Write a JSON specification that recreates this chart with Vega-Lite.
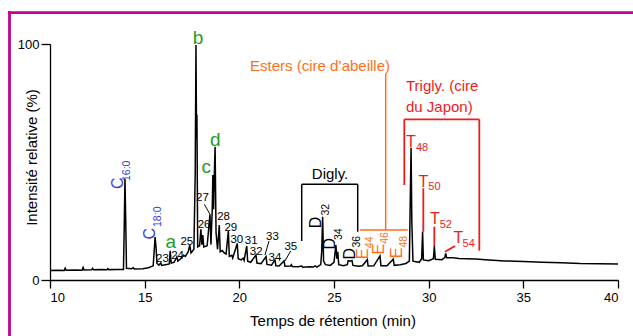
{
 "$schema": "https://vega.github.io/schema/vega-lite/v6.json",
 "width": 568,
 "height": 236,
 "autosize": {"type": "none"},
 "padding": {"left": 50, "top": 44, "right": 15, "bottom": 56},
 "config": {
  "font": "Liberation Sans",
  "view": {"stroke": null},
  "axis": {"grid": false, "domainColor": "#000000", "tickColor": "#000000", "labelColor": "#000000", "titleColor": "#000000", "domainWidth": 1.3, "tickWidth": 1.3, "labelFont": "Liberation Sans", "titleFont": "Liberation Sans", "titleFontWeight": "normal", "labelFontSize": 13, "titleFontSize": 15}
 },
 "datasets": {
  "trace": [
   {"t":10.0,"v":4.0},{"t":10.4,"v":4.1},{"t":10.75,"v":4.0},{"t":10.8,"v":5.0},{"t":10.85,"v":4.1},{"t":11.3,"v":4.2},{"t":11.7,"v":4.1},{"t":11.75,"v":5.3},{"t":11.8,"v":4.2},{"t":12.2,"v":4.3},{"t":12.25,"v":4.9},{"t":12.3,"v":4.3},{"t":12.7,"v":4.4},{"t":13.0,"v":4.3},{"t":13.05,"v":4.8},{"t":13.1,"v":4.4},{"t":13.5,"v":4.5},{"t":13.88,"v":4.5},{"t":13.92,"v":22},{"t":13.96,"v":43},{"t":14.0,"v":25},{"t":14.04,"v":5},{"t":14.3,"v":4.8},{"t":14.4,"v":5.2},{"t":14.45,"v":4.7},{"t":14.9,"v":4.8},{"t":15.2,"v":5.2},{"t":15.45,"v":6.0},{"t":15.5,"v":12},{"t":15.55,"v":18.2},{"t":15.6,"v":14},{"t":15.65,"v":7},{"t":15.75,"v":6.3},{"t":15.85,"v":7.2},{"t":15.9,"v":6.2},{"t":16.1,"v":6.5},{"t":16.3,"v":6.8},{"t":16.35,"v":12.4},{"t":16.4,"v":7.2},{"t":16.55,"v":7.5},{"t":16.65,"v":9.0},{"t":16.7,"v":9.8},{"t":16.75,"v":8.0},{"t":16.9,"v":9.0},{"t":17.05,"v":10.5},{"t":17.15,"v":10},{"t":17.3,"v":12},{"t":17.38,"v":14.8},{"t":17.45,"v":11.5},{"t":17.6,"v":13},{"t":17.67,"v":45},{"t":17.71,"v":99.6},{"t":17.74,"v":60},{"t":17.76,"v":70},{"t":17.8,"v":14},{"t":17.9,"v":14.5},{"t":17.97,"v":21.5},{"t":18.02,"v":15},{"t":18.07,"v":19},{"t":18.12,"v":14},{"t":18.3,"v":14.5},{"t":18.45,"v":27.8},{"t":18.5,"v":15},{"t":18.57,"v":30},{"t":18.6,"v":44.5},{"t":18.64,"v":30},{"t":18.68,"v":45},{"t":18.72,"v":56.5},{"t":18.77,"v":20},{"t":18.85,"v":13},{"t":18.94,"v":23.3},{"t":18.99,"v":12},{"t":19.1,"v":12.5},{"t":19.2,"v":11.5},{"t":19.3,"v":11},{"t":19.42,"v":20.8},{"t":19.47,"v":10},{"t":19.6,"v":10.5},{"t":19.65,"v":9.3},{"t":19.89,"v":15.5},{"t":19.94,"v":9},{"t":20.1,"v":8.5},{"t":20.2,"v":9.2},{"t":20.25,"v":8.3},{"t":20.39,"v":14.4},{"t":20.44,"v":8},{"t":20.6,"v":7.5},{"t":20.88,"v":10.6},{"t":20.93,"v":7.2},{"t":21.15,"v":6.9},{"t":21.41,"v":9.9},{"t":21.46,"v":6.6},{"t":21.7,"v":6.3},{"t":21.88,"v":8.5},{"t":21.93,"v":6},{"t":22.1,"v":5.9},{"t":22.36,"v":8.1},{"t":22.41,"v":5.8},{"t":22.7,"v":5.9},{"t":22.75,"v":6.5},{"t":22.8,"v":5.7},{"t":23.1,"v":5.6},{"t":23.3,"v":5.9},{"t":23.35,"v":5.4},{"t":23.7,"v":5.6},{"t":23.9,"v":5.5},{"t":24.0,"v":6.0},{"t":24.1,"v":5.5},{"t":24.3,"v":6.5},{"t":24.35,"v":12},{"t":24.4,"v":26.8},{"t":24.45,"v":8},{"t":24.55,"v":6.5},{"t":24.8,"v":6.2},{"t":25.0,"v":7.5},{"t":25.1,"v":14.8},{"t":25.15,"v":9},{"t":25.2,"v":12},{"t":25.25,"v":6.5},{"t":25.5,"v":6.0},{"t":25.7,"v":6.5},{"t":25.75,"v":8.2},{"t":25.85,"v":8.0},{"t":25.95,"v":8.3},{"t":26.0,"v":6.2},{"t":26.3,"v":5.8},{"t":26.5,"v":6.0},{"t":26.76,"v":8.6},{"t":26.8,"v":5.9},{"t":27.1,"v":6.0},{"t":27.43,"v":10.2},{"t":27.48,"v":6.0},{"t":27.8,"v":6.0},{"t":28.13,"v":8.8},{"t":28.18,"v":6.2},{"t":28.5,"v":6.5},{"t":28.8,"v":7.0},{"t":28.98,"v":8},{"t":29.03,"v":35},{"t":29.07,"v":56},{"t":29.11,"v":25},{"t":29.17,"v":8},{"t":29.5,"v":7.5},{"t":29.63,"v":9},{"t":29.68,"v":20.5},{"t":29.72,"v":8.5},{"t":30.0,"v":8.2},{"t":30.25,"v":9},{"t":30.3,"v":14.4},{"t":30.35,"v":8.8},{"t":30.7,"v":8.6},{"t":30.85,"v":9.5},{"t":30.9,"v":11.3},{"t":30.95,"v":9.4},{"t":31.3,"v":9.4},{"t":31.6,"v":9.1},{"t":32.0,"v":9.0},{"t":32.5,"v":8.9},{"t":33.0,"v":8.6},{"t":34.0,"v":8.1},{"t":35.0,"v":7.8},{"t":36.0,"v":7.5},{"t":37.0,"v":7.3},{"t":38.0,"v":7.0},{"t":39.0,"v":6.9},{"t":40.0,"v":6.8}
  ],
  "seg": [
   {"t":7.78,"v":113.26,"t2":42,"v2":113.26,"grp":"frame"},
   {"t":7.861,"v":113.9,"t2":7.861,"v2":-30,"grp":"frame"},
   {"t":23.294,"v":16.53,"t2":23.294,"v2":40.55,"grp":"digly"},
   {"t":23.294,"v":40.55,"t2":26.252,"v2":40.55,"grp":"digly"},
   {"t":26.252,"v":40.55,"t2":26.252,"v2":20.47,"grp":"digly"},
   {"t":27.73,"v":87.3,"t2":27.73,"v2":21.19,"grp":"esters"},
   {"t":26.373,"v":21.19,"t2":28.893,"v2":21.19,"grp":"esters"},
   {"t":28.713,"v":40.25,"t2":28.713,"v2":68.1,"grp":"trigly"},
   {"t":28.713,"v":68.1,"t2":32.675,"v2":68.1,"grp":"trigly"},
   {"t":32.675,"v":68.1,"t2":32.675,"v2":12.42,"grp":"trigly"},
   {"t":29.717,"v":38.85,"t2":29.717,"v2":20.47,"grp":"trigly"},
   {"t":30.298,"v":22.6,"t2":30.298,"v2":14.4,"grp":"trigly"},
   {"t":31.39,"v":14.41,"t2":30.863,"v2":11.99,"grp":"trigly"},
   {"t":18.15,"v":32.08,"t2":18.45,"v2":27.84,"grp":"num"},
   {"t":21.567,"v":16.5,"t2":21.356,"v2":10.6,"grp":"num"},
   {"t":22.71,"v":12.3,"t2":22.41,"v2":8.05,"grp":"num"}
  ],
  "lab": [
   {"t":16.38,"v":13.56,"s":"a","grp":"green"},
   {"t":17.817,"v":100.0,"s":"b","grp":"green"},
   {"t":18.25,"v":45.2,"s":"c","grp":"green"},
   {"t":18.73,"v":56.78,"s":"d","grp":"green"},
   {"t":15.941,"v":7.75,"s":"23","grp":"num"},
   {"t":16.74,"v":8.77,"s":"24","grp":"num"},
   {"t":17.226,"v":14.83,"s":"25","grp":"num"},
   {"t":18.14,"v":21.9,"s":"26","grp":"num"},
   {"t":18.052,"v":33.47,"s":"27","grp":"num"},
   {"t":19.165,"v":25.42,"s":"28","grp":"num"},
   {"t":19.55,"v":20.76,"s":"29","grp":"num"},
   {"t":19.866,"v":15.55,"s":"30","grp":"num"},
   {"t":20.627,"v":15.25,"s":"31","grp":"num"},
   {"t":20.891,"v":10.59,"s":"32","grp":"num"},
   {"t":21.751,"v":16.95,"s":"33","grp":"num"},
   {"t":21.884,"v":8.05,"s":"34","grp":"num"},
   {"t":22.719,"v":12.71,"s":"35","grp":"num"},
   {"t":24.789,"v":42.9,"s":"Digly.","grp":"digly"},
   {"t":24.26,"v":88.7,"s":"Esters (cire d’abeille)","grp":"esters"},
   {"t":28.8,"v":80.2,"s":"Trigly. (cire","grp":"trigly"},
   {"t":28.8,"v":71.19,"s":"du Japon)","grp":"trigly"},
   {"t":29.056,"v":56.48,"s":"T","grp":"T"},
   {"t":29.717,"v":39.53,"s":"T","grp":"T"},
   {"t":30.335,"v":23.73,"s":"T","grp":"T"},
   {"t":31.565,"v":15.55,"s":"T","grp":"T"},
   {"t":29.648,"v":54.79,"s":"48","grp":"Tsub"},
   {"t":30.308,"v":38.14,"s":"50","grp":"Tsub"},
   {"t":30.905,"v":21.91,"s":"52","grp":"Tsub"},
   {"t":32.114,"v":13.86,"s":"54","grp":"Tsub"}
  ],
  "rot": [
   {"t":13.872,"v":40.97,"s":"C","grp":"C","part":"main"},
   {"t":14.225,"v":46.27,"s":"16:0","grp":"C","part":"sub"},
   {"t":15.546,"v":19.62,"s":"C","grp":"C","part":"main"},
   {"t":15.863,"v":26.8,"s":"18:0","grp":"C","part":"sub"},
   {"t":24.313,"v":24.36,"s":"D","grp":"D","part":"main"},
   {"t":24.752,"v":29.8,"s":"32","grp":"D","part":"sub"},
   {"t":25.053,"v":15.34,"s":"D","grp":"D","part":"main"},
   {"t":25.407,"v":19.4,"s":"34","grp":"D","part":"sub"},
   {"t":26.109,"v":11.14,"s":"D","grp":"D","part":"main"},
   {"t":26.373,"v":16.2,"s":"36","grp":"D","part":"sub"},
   {"t":26.812,"v":11.1,"s":"E","grp":"E","part":"main"},
   {"t":27.076,"v":15.97,"s":"44","grp":"E","part":"sub"},
   {"t":27.641,"v":13.05,"s":"E","grp":"E","part":"main"},
   {"t":27.868,"v":17.8,"s":"46","grp":"E","part":"sub"},
   {"t":28.576,"v":11.5,"s":"E","grp":"E","part":"main"},
   {"t":28.84,"v":16.2,"s":"48","grp":"E","part":"sub"}
  ]
 },
 "encoding": {
  "x": {"field": "t", "type": "quantitative", "scale": {"domain": [10, 40], "nice": false, "zero": false},
   "axis": {"values": [10, 15, 20, 25, 30, 35, 40], "tickSize": 8, "labelPadding": 3, "title": "Temps de rétention (min)", "titleBaseline": "alphabetic", "titleAlign": "center", "titleX": 282.5, "titleY": 45.7}},
  "y": {"field": "v", "type": "quantitative", "scale": {"domain": [0, 100], "nice": false, "zero": false},
   "axis": {"values": [0, 100], "tickSize": 9, "labelPadding": 2, "title": "Intensité relative (%)", "titleAngle": 270, "titleBaseline": "alphabetic", "titleAlign": "center", "titleX": -13.3, "titleY": 113}}
 },
 "layer": [
  {"data": {"name": "seg"}, "transform": [{"filter": "datum.grp === 'frame'"}], "mark": {"type": "rule", "color": "#c5028f", "strokeWidth": 2.8}, "encoding": {"x2": {"field": "t2"}, "y2": {"field": "v2"}}},
  {"data": {"name": "trace"}, "mark": {"type": "line", "color": "#000000", "strokeWidth": 1.5}, "encoding": {}},
  {"data": {"name": "seg"}, "transform": [{"filter": "datum.grp === 'digly'"}], "mark": {"type": "rule", "color": "#000000", "strokeWidth": 1.5}, "encoding": {"x2": {"field": "t2"}, "y2": {"field": "v2"}}},
  {"data": {"name": "seg"}, "transform": [{"filter": "datum.grp === 'num'"}], "mark": {"type": "rule", "color": "#000000", "strokeWidth": 1}, "encoding": {"x2": {"field": "t2"}, "y2": {"field": "v2"}}},
  {"data": {"name": "seg"}, "transform": [{"filter": "datum.grp === 'esters'"}], "mark": {"type": "rule", "color": "#ff6f1a", "strokeWidth": 1.5}, "encoding": {"x2": {"field": "t2"}, "y2": {"field": "v2"}}},
  {"data": {"name": "seg"}, "transform": [{"filter": "datum.grp === 'trigly'"}], "mark": {"type": "rule", "color": "#ee1c1c", "strokeWidth": 1.8}, "encoding": {"x2": {"field": "t2"}, "y2": {"field": "v2"}}},
  {"data": {"name": "lab"}, "transform": [{"filter": "datum.grp === 'green'"}], "mark": {"type": "text", "color": "#1f9e1f", "fontSize": 19, "align": "center", "baseline": "alphabetic"}, "encoding": {"text": {"field": "s"}}},
  {"data": {"name": "lab"}, "transform": [{"filter": "datum.grp === 'num'"}], "mark": {"type": "text", "color": "#000000", "fontSize": 11.5, "align": "center", "baseline": "alphabetic"}, "encoding": {"text": {"field": "s"}}},
  {"data": {"name": "lab"}, "transform": [{"filter": "datum.grp === 'digly'"}], "mark": {"type": "text", "color": "#000000", "fontSize": 15, "align": "center", "baseline": "alphabetic"}, "encoding": {"text": {"field": "s"}}},
  {"data": {"name": "lab"}, "transform": [{"filter": "datum.grp === 'esters'"}], "mark": {"type": "text", "color": "#ff6f1a", "fontSize": 15, "align": "center", "baseline": "alphabetic"}, "encoding": {"text": {"field": "s"}}},
  {"data": {"name": "lab"}, "transform": [{"filter": "datum.grp === 'trigly'"}], "mark": {"type": "text", "color": "#ee1c1c", "fontSize": 15, "align": "left", "baseline": "alphabetic"}, "encoding": {"text": {"field": "s"}}},
  {"data": {"name": "lab"}, "transform": [{"filter": "datum.grp === 'T'"}], "mark": {"type": "text", "color": "#ee1c1c", "fontSize": 16, "align": "center", "baseline": "alphabetic"}, "encoding": {"text": {"field": "s"}}},
  {"data": {"name": "lab"}, "transform": [{"filter": "datum.grp === 'Tsub'"}], "mark": {"type": "text", "color": "#ee1c1c", "fontSize": 11, "align": "center", "baseline": "alphabetic"}, "encoding": {"text": {"field": "s"}}},
  {"data": {"name": "rot"}, "transform": [{"filter": "datum.part === 'main'"}], "mark": {"type": "text", "angle": 270, "fontSize": 16, "align": "center", "baseline": "alphabetic"},
   "encoding": {"text": {"field": "s"}, "color": {"field": "grp", "type": "nominal", "scale": {"domain": ["C", "D", "E"], "range": ["#3b3bd4", "#000000", "#ff6f1a"]}, "legend": null}}},
  {"data": {"name": "rot"}, "transform": [{"filter": "datum.part === 'sub'"}], "mark": {"type": "text", "angle": 270, "fontSize": 10.5, "align": "center", "baseline": "alphabetic"},
   "encoding": {"text": {"field": "s"}, "color": {"field": "grp", "type": "nominal", "scale": {"domain": ["C", "D", "E"], "range": ["#3b3bd4", "#000000", "#ff6f1a"]}, "legend": null}}}
 ]
}
